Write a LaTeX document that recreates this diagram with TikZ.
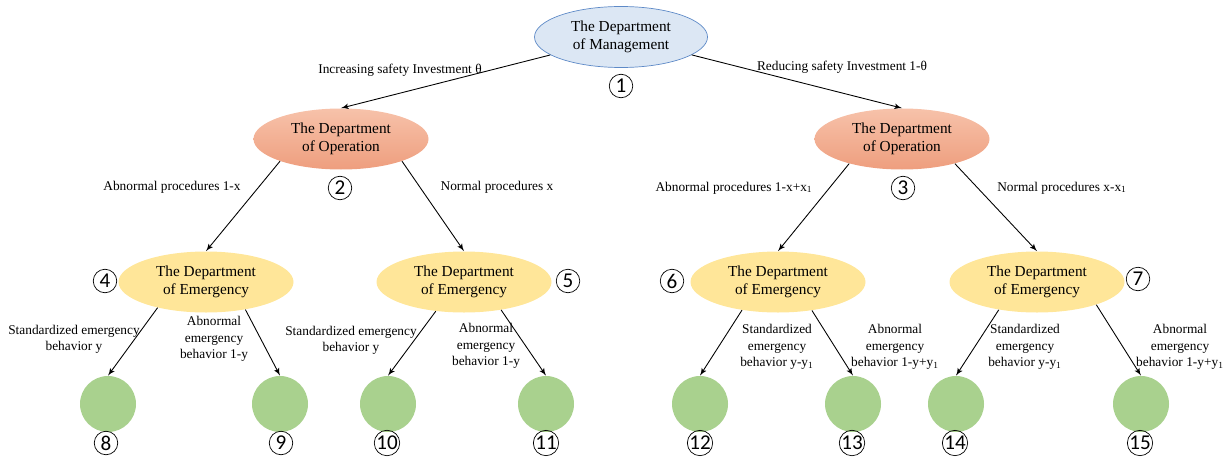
\documentclass[tikz,border=0pt]{standalone}
\usepackage{fontspec}
\setmainfont{Liberation Serif}
\newfontfamily\circfont{Carlito}
\usetikzlibrary{arrows,shapes.geometric}
\definecolor{mgmtfill}{HTML}{DCE7F4}
\definecolor{mgmtline}{HTML}{5E8AC7}
\definecolor{opertop}{HTML}{F7C2AA}
\definecolor{operbot}{HTML}{EE9E7E}
\definecolor{emerfill}{HTML}{FFE699}
\definecolor{leaffill}{HTML}{A9D18E}
\tikzset{font=\fontsize{7.6}{9.3}\selectfont}
\tikzset{
  dept/.style={ellipse,inner sep=0pt,align=center,minimum width=35mm,minimum height=12.2mm,font=\fontsize{8.7}{10.4}\selectfont},
  mgmt/.style={dept,draw=mgmtline,fill=mgmtfill,minimum width=34.6mm},
  oper/.style={dept,top color=opertop,bottom color=operbot},
  emer/.style={dept,fill=emerfill},
  leaf/.style={circle,fill=leaffill,minimum size=11.2mm},
  tag/.style={circle,draw,inner sep=0pt,minimum size=4.7mm,font=\circfont\fontsize{12}{12}\selectfont},
  lab/.style={align=center,inner sep=0pt},
  link/.style={-latex',line width=.5pt}
}

\begin{document}
\begin{tikzpicture}[x=0.2mm,y=-0.2mm]
  \useasboundingbox (0,0) rectangle (1229,464);
  % departments
  \node[mgmt] (d1) at (621,37) {The Department\\of Management};
  \node[oper] (d2) at (341,139) {The Department\\of Operation};
  \node[oper] (d3) at (902,139) {The Department\\of Operation};
  \node[emer] (d4) at (206,282) {The Department\\of Emergency};
  \node[emer] (d5) at (464,282) {The Department\\of Emergency};
  \node[emer] (d6) at (778,282) {The Department\\of Emergency};
  \node[emer] (d7) at (1037,282) {The Department\\of Emergency};
  % outcomes
  \foreach \i/\x in {8/108,9/280,10/388,11/546,12/700,13/853,14/956,15/1141}
    \node[leaf] (d\i) at (\x,404) {};
  % circled numbers
  \node[tag] (n1) at (621,86) {1};
  \node[tag] (n2) at (340,188) {2};
  \node[tag] (n3) at (903,188) {3};
  \node[tag] (n4) at (105,281) {4};
  \node[tag] (n5) at (568,281) {5};
  \node[tag] (n6) at (672,281) {6};
  \node[tag] (n7) at (1138,279) {7};
  \foreach \i/\x in {8/106,9/281,10/387,11/546,12/700,13/852,14/955,15/1140}
    \node[tag] (n\i) at (\x,443) {\i};
  % arrows
  \draw[link] (d1) -- (d2.north);
  \draw[link] (d1) -- (d3.north);
  \draw[link] (d2.200) -- (d4.north);
  \draw[link] (d2.340) -- (d5.north);
  \draw[link] (d3.205) -- (d6.north);
  \draw[link] (d3.335) -- (d7.north);
  \draw[link] (d4.208) -- (d8.north);
  \draw[link] (d4.325) -- (d9.north);
  \draw[link] (d5.226) -- (d10.north);
  \draw[link] (d5.323) -- (d11.north);
  \draw[link] (d6.218) -- (d12.north);
  \draw[link] (d6.320) -- (d13.north);
  \draw[link] (d7.216) -- (d14.north);
  \draw[link] (d7.339) -- (d15.north);
  % labels
  \node[lab] (t12) at (400,70) {Increasing safety Investment θ};
  \node[lab] (t13) at (842,67) {Reducing safety Investment 1-θ};
  \node[lab] (t24) at (172,187) {Abnormal procedures 1-x};
  \node[lab] (t25) at (497,187) {Normal procedures x};
  \node[lab] (t36) at (734,188) {Abnormal procedures 1-x+x\textsubscript{1}};
  \node[lab] (t37) at (1062,188) {Normal procedures x-x\textsubscript{1}};
  \node[lab] (t48) at (74,339) {Standardized emergency\\behavior y};
  \node[lab] (t49) at (214,339) {Abnormal\\emergency\\behavior 1-y};
  \node[lab] (t510) at (351,340) {Standardized emergency\\behavior y};
  \node[lab] (t511) at (486,346) {Abnormal\\emergency\\behavior 1-y};
  \node[lab] (t612) at (777,347) {Standardized\\emergency\\behavior y-y\textsubscript{1}};
  \node[lab] (t613) at (895,347) {Abnormal\\emergency\\behavior 1-y+y\textsubscript{1}};
  \node[lab] (t714) at (1025,347) {Standardized\\emergency\\behavior y-y\textsubscript{1}};
  \node[lab] (t715) at (1180,347) {Abnormal\\emergency\\behavior 1-y+y\textsubscript{1}};
\end{tikzpicture}
\end{document}
